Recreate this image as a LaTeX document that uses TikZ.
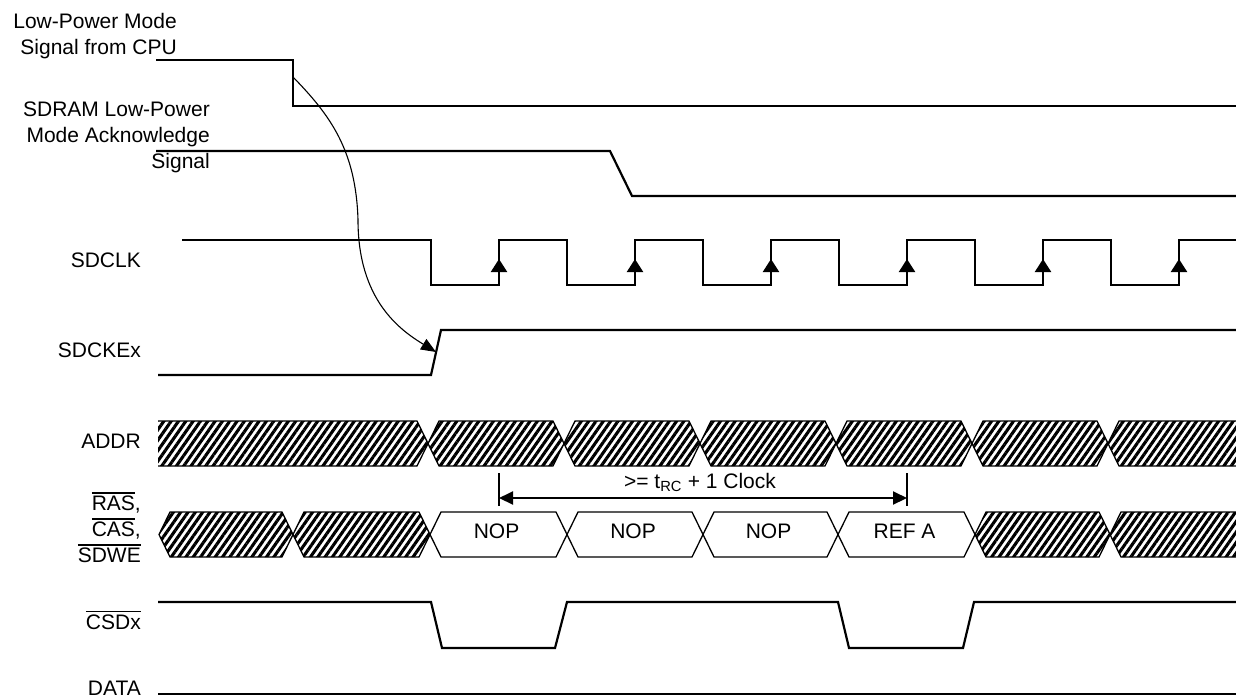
\documentclass[tikz,border=0pt]{standalone}
\usepackage{fontspec}
\setmainfont{Liberation Sans}
\usetikzlibrary{arrows.meta,patterns.meta}
\newcommand{\ovl}[1]{\leavevmode\vbox{\hrule height 1.8pt\kern 2pt\hbox{#1}}}

\begin{document}
\begin{tikzpicture}[x=1pt, y=-1pt,
  sig/.style={line width=2.2pt},
  lbl/.style={font=\fontsize{21}{26}\selectfont, inner sep=0pt, anchor=base east},
  hatch/.style={pattern={Lines[angle=55, distance=6pt, line width=3.1pt]}},
  bus/.style={line width=1.3pt},
  clkarrow/.style={-{Triangle[width=16pt, length=13pt]}, line width=2.2pt},
  dim/.style={{Triangle[width=13pt, length=14pt]}-{Triangle[width=13pt, length=14pt]}, line width=2pt},
  cause/.style={-{Triangle[width=12pt, length=15pt]}, line width=1.1pt},
]
\useasboundingbox (0,0) rectangle (1236,697);

\node[lbl, anchor=north east, align=right] (lpmlbl) at (177,13) {Low-Power Mode\\Signal from CPU};
\node[lbl, anchor=north east, align=right] (acklbl) at (210,102) {SDRAM Low-Power\\Mode Acknowledge\\Signal};
\node[lbl] (clklbl) at (141,267) {SDCLK};
\node[lbl] (ckelbl) at (141,357) {SDCKEx};
\node[lbl] (addrlbl) at (141,448) {ADDR};
\node[lbl, anchor=north east, align=right] (ctllbl) at (141,492) {\ovl{RAS},\\\ovl{CAS},\\\ovl{SDWE}};
\node[lbl] (cslbl) at (141,629) {\ovl{CSDx}};
\node[lbl] (datalbl) at (141,695) {DATA};

\draw[sig] (156,60) -- (293,60) -- (293,106) -- (1236,106);
\draw[sig] (156,151) -- (610,151) -- (632,196) -- (1236,196);
\draw[sig] (182,240) foreach \f in {431,567,...,1111} { -- (\f,240) -- (\f,285) -- (\f+68,285) -- (\f+68,240) } -- (1236,240);
\foreach \f in {499,635,...,1179}
  \draw[clkarrow] (\f,285) -- (\f,259);
\draw[sig] (158,375) -- (431,375) -- (441,330) -- (1236,330);
\draw[sig] (158,602) -- (431,602) -- (442,648) -- (555,648) -- (567,602) -- (838,602)
  -- (849,648) -- (963,648) -- (974,602) -- (1236,602);
\draw[sig] (158,694) -- (1236,694);

\coordinate (lpfall) at (293,77);
\coordinate (ckerise) at (436,352);
\draw[cause] (lpfall) .. controls (330,115) and (356,150) .. (358,220)
  .. controls (358,300) and (400,330) .. (ckerise);

\fill[hatch] (158,421) -- (417,421) -- (428,443.5) -- (417,466) -- (158,466) -- cycle;
\draw[bus] (158,421) -- (417,421) -- (428,443.5) -- (417,466) -- (158,466);
\foreach \a/\b in {428/564,564/700,700/836,836/972,972/1108}
  \draw[bus, hatch] (\a,443.5) -- (\a+11,421) -- (\b-11,421) -- (\b,443.5) -- (\b-11,466) -- (\a+11,466) -- cycle;
\fill[hatch] (1108,443.5) -- (1119,421) -- (1236,421) -- (1236,466) -- (1119,466) -- cycle;
\draw[bus] (1236,421) -- (1119,421) -- (1108,443.5) -- (1119,466) -- (1236,466);

\foreach \a/\b in {159/293,293/430,975/1110}
  \draw[bus, hatch] (\a,534.5) -- (\a+11,512) -- (\b-11,512) -- (\b,534.5) -- (\b-11,557) -- (\a+11,557) -- cycle;
\foreach \a/\b/\t [count=\i] in {430/567/NOP,567/703/NOP,703/838/NOP,838/975/REF A} {
  \draw[bus] (\a,534.5) -- (\a+11,512) -- (\b-11,512) -- (\b,534.5) -- (\b-11,557) -- (\a+11,557) -- cycle;
  \node[lbl, anchor=base] (cmd\i) at ({(\a+\b)/2-2},538) {\t};
}
\fill[hatch] (1110,534.5) -- (1121,512) -- (1236,512) -- (1236,557) -- (1121,557) -- cycle;
\draw[bus] (1236,512) -- (1121,512) -- (1110,534.5) -- (1121,557) -- (1236,557);

\coordinate (trcL) at (499,498);
\coordinate (trcR) at (907,498);
\draw[line width=2pt] (499,473) -- (499,506) (907,473) -- (907,506);
\draw[dim] (trcL) -- (trcR);
\node[lbl, anchor=base] (trclbl) at (700,488) {>= t\textsubscript{RC} + 1 Clock};
\end{tikzpicture}
\end{document}
